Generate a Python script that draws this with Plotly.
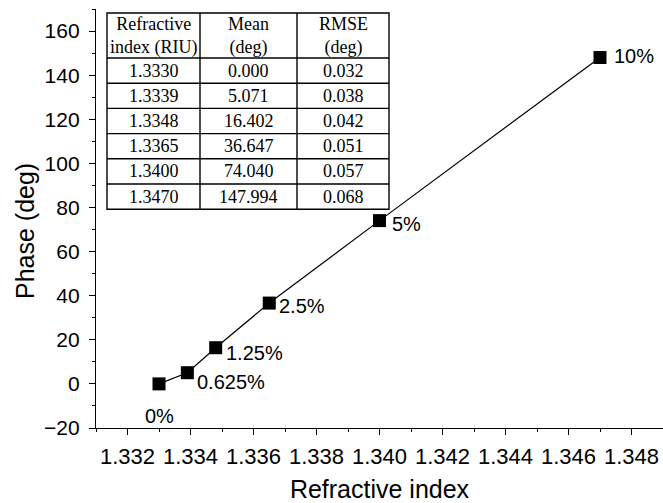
import plotly.graph_objects as go

# Data
refractive_index = [1.3330, 1.3339, 1.3348, 1.3365, 1.3400, 1.3470]
phase_mean = [0.000, 5.071, 16.402, 36.647, 74.040, 147.994]
rmse = [0.032, 0.038, 0.042, 0.051, 0.057, 0.068]
concentration_labels = ["0%", "0.625%", "1.25%", "2.5%", "5%", "10%"]

table_header = ["Refractive<br>index (RIU)", "Mean<br>(deg)", "RMSE<br>(deg)"]
ri_text = ["%.4f" % v for v in refractive_index]
mean_text = ["%.3f" % v for v in phase_mean]
rmse_text = ["%.3f" % v for v in rmse]
table_columns = [ri_text, mean_text, rmse_text]

# label placement (styles)
label_anchor = ["center", "left", "left", "left", "left", "left"]
label_xshift = [0, 8, 8, 8, 10, 12]
label_yshift = [-32, -9, -5, -3, -3, 2]

# Layout geometry (pixels)
W, H = 663, 503
ML, MR, MT, MB = 96, 0, 9, 75
PW, PH = W - ML - MR, H - MT - MB


def px(x):
    return (x - ML) / PW


def py(y):
    return (H - MB - y) / PH


# table geometry (pixels)
col_edges = [107, 200, 297, 389]
table_top = 13
header_h = 45
row_h = 25.2
n_rows = len(ri_text)
row_edges = [table_top, table_top + header_h] + [table_top + header_h + row_h * (i + 1) for i in range(n_rows)]

fig = go.Figure()

fig.add_trace(go.Scatter(
    x=refractive_index, y=phase_mean,
    mode="lines+markers",
    line=dict(color="black", width=1.2),
    marker=dict(symbol="square", size=13, color="black"),
    showlegend=False,
))

for x, y, t, a, dx, dy in zip(refractive_index, phase_mean, concentration_labels,
                              label_anchor, label_xshift, label_yshift):
    fig.add_annotation(
        x=x, y=y, text=t, showarrow=False,
        xanchor=a, yanchor="middle", xshift=dx, yshift=dy,
        font=dict(family="Liberation Sans", size=20, color="black"),
    )

# Table: frame and grid lines
tline = dict(color="black", width=1.4)
fig.add_shape(type="rect", xref="paper", yref="paper",
              x0=px(col_edges[0]), x1=px(col_edges[-1]),
              y0=py(row_edges[-1]), y1=py(row_edges[0]),
              fillcolor="white", line=tline, layer="above")
for ce in col_edges[1:-1]:
    fig.add_shape(type="line", xref="paper", yref="paper",
                  x0=px(ce), x1=px(ce), y0=py(row_edges[-1]), y1=py(row_edges[0]),
                  line=tline, layer="above")
for re in row_edges[1:-1]:
    fig.add_shape(type="line", xref="paper", yref="paper",
                  x0=px(col_edges[0]), x1=px(col_edges[-1]), y0=py(re), y1=py(re),
                  line=tline, layer="above")

tfont = dict(family="Liberation Serif", size=18, color="black")
for ci, head in enumerate(table_header):
    xc = px((col_edges[ci] + col_edges[ci + 1]) / 2)
    fig.add_annotation(xref="paper", yref="paper", x=xc,
                       y=py((row_edges[0] + row_edges[1]) / 2),
                       text=head, showarrow=False, xanchor="center", yanchor="middle",
                       font=tfont)
    for ri, val in enumerate(table_columns[ci]):
        fig.add_annotation(xref="paper", yref="paper", x=xc,
                           y=py((row_edges[ri + 1] + row_edges[ri + 2]) / 2),
                           text=val, showarrow=False, xanchor="center", yanchor="middle",
                           font=tfont)

# y-axis title
fig.add_annotation(xref="paper", yref="paper", x=px(25), y=py(231),
                   text="Phase (deg)", textangle=-90, showarrow=False,
                   xanchor="center", yanchor="middle",
                   font=dict(family="Liberation Sans", size=25, color="black"))

axis_common = dict(
    showline=True, linecolor="black", linewidth=1.3,
    ticks="outside", ticklen=6, tickwidth=1.3, tickcolor="black",
    showgrid=False, zeroline=False,
)

fig.update_xaxes(
    range=[1.331, 1.349], tick0=1.332, dtick=0.002, tickformat=".3f",
    tickfont=dict(family="Liberation Sans", size=22, color="black"),
    ticklabelstandoff=2,
    minor=dict(dtick=0.001, tick0=1.331, ticklen=3, tickwidth=1.2, tickcolor="black", ticks="outside"),
    title=dict(text="Refractive index", font=dict(family="Liberation Sans", size=25, color="black"), standoff=14),
    **axis_common,
)
fig.update_yaxes(
    range=[-20, 170], tick0=-20, dtick=20,
    tickfont=dict(family="Liberation Sans", size=21, color="black"),
    ticklabelstandoff=5,
    minor=dict(dtick=10, tick0=-20, ticklen=3, tickwidth=1.2, tickcolor="black", ticks="outside"),
    **axis_common,
)

fig.update_layout(
    width=W, height=H,
    margin=dict(l=ML, r=MR, t=MT, b=MB),
    paper_bgcolor="white", plot_bgcolor="white",
)

fig.write_html("out.html")
